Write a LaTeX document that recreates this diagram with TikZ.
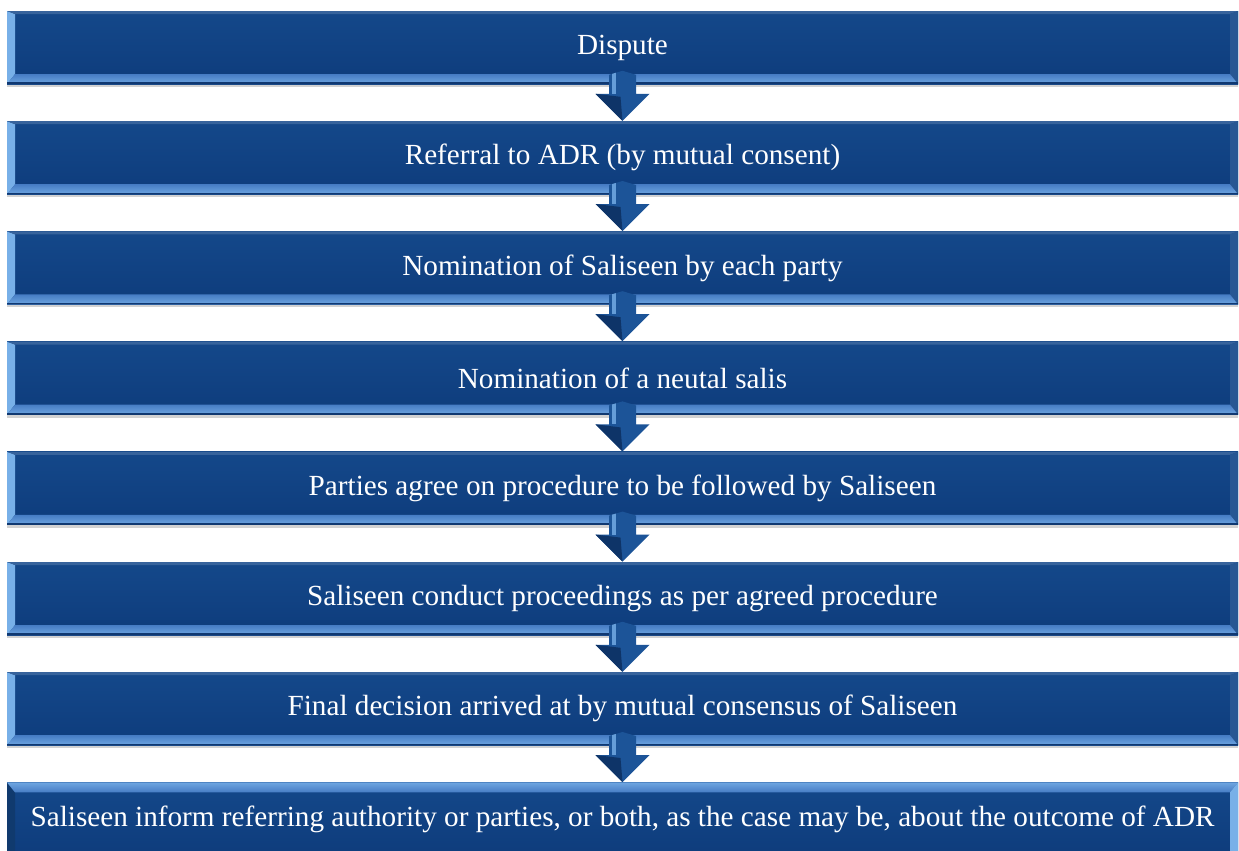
\documentclass[tikz,border=0pt]{standalone}
\usepackage{fontspec}
\setmainfont{Liberation Serif}
\usetikzlibrary{shadings,shadows}

\definecolor{barblue}{RGB}{20,72,138}
\definecolor{bardeep}{RGB}{14,60,124}
\definecolor{bevellight}{RGB}{120,176,232}
\definecolor{bevelmid}{RGB}{70,124,196}
\definecolor{beveldark}{RGB}{16,56,112}
\definecolor{arrowblue}{RGB}{28,84,152}
\definecolor{arrowdark}{RGB}{14,52,104}

\tikzset{
  stage/.style={minimum width=615.5pt, minimum height=36.5pt, inner sep=0pt,
    top color=barblue, bottom color=bardeep, text=white,
    font=\fontsize{14.6}{17}\selectfont,
    drop shadow={opacity=0.35, shadow xshift=0pt, shadow yshift=-1.5pt},
    path picture={
      \fill[bevellight] (path picture bounding box.north west) -- (path picture bounding box.south west)
        -- ([xshift=4pt,yshift=5pt]path picture bounding box.south west) -- ([xshift=4pt,yshift=-1.5pt]path picture bounding box.north west) -- cycle; %left edge
      \fill[barblue!85!white] (path picture bounding box.north west) -- (path picture bounding box.north east)
        -- ([xshift=-4pt,yshift=-1.5pt]path picture bounding box.north east) -- ([xshift=4pt,yshift=-1.5pt]path picture bounding box.north west) -- cycle; %top edge
      \fill[barblue!92!white] (path picture bounding box.north east) -- (path picture bounding box.south east)
        -- ([xshift=-4pt,yshift=5pt]path picture bounding box.south east) -- ([xshift=-4pt,yshift=-1.5pt]path picture bounding box.north east) -- cycle; %right edge
      \shade[top color=bevelmid, bottom color=bevellight!80!bevelmid] (path picture bounding box.south west) -- (path picture bounding box.south east)
        -- ([xshift=-4pt,yshift=5pt]path picture bounding box.south east) -- ([xshift=4pt,yshift=5pt]path picture bounding box.south west) -- cycle; %bottom edge
      \fill[beveldark] (path picture bounding box.south west) rectangle ([yshift=0.8pt]path picture bounding box.south east);
    }},
  stagelast/.style={stage,
    path picture={
      \fill[barblue!80!black] (path picture bounding box.north west) -- (path picture bounding box.south west)
        -- ([xshift=4pt,yshift=1.5pt]path picture bounding box.south west) -- ([xshift=4pt,yshift=-5pt]path picture bounding box.north west) -- cycle; %left edge
      \shade[bottom color=bevelmid, top color=bevellight!80!bevelmid] (path picture bounding box.north west) -- (path picture bounding box.north east)
        -- ([xshift=-4pt,yshift=-5pt]path picture bounding box.north east) -- ([xshift=4pt,yshift=-5pt]path picture bounding box.north west) -- cycle; %top edge
      \fill[bevellight] (path picture bounding box.north east) -- (path picture bounding box.south east)
        -- ([xshift=-4pt,yshift=1.5pt]path picture bounding box.south east) -- ([xshift=-4pt,yshift=-5pt]path picture bounding box.north east) -- cycle; %right edge
    }},
  arrowbody/.style={fill=arrowblue,
    path picture={
      \fill[arrowdark] (path picture bounding box.south) -- ([xshift=-13.5pt,yshift=13.5pt]path picture bounding box.south)
        -- ([xshift=-1pt,yshift=12pt]path picture bounding box.south) -- cycle; %shaded face of the head
      \fill[bevellight, opacity=0.8] ([xshift=-5.5pt]path picture bounding box.north) rectangle ([xshift=-3.5pt,yshift=13.5pt]path picture bounding box.south); %shine on the shaft
    }}
}

\begin{document}
\begin{tikzpicture}[x=0.5pt,y=-0.5pt]
    \useasboundingbox[fill=white] (0,0) rectangle (1239,851);

    \node[stage] (dispute) at (622.5,47.5) {Dispute};
    \node[stage] (referral) at (622.5,157.7) {Referral to ADR (by mutual consent)};
    \node[stage] (nominate) at (622.5,267.9) {Nomination of Saliseen by each party};
    \node[stage] (neutral) at (622.5,378.1) {Nomination of a neutal salis};
    \node[stage] (procedure) at (622.5,488.3) {Parties agree on procedure to be followed by Saliseen};
    \node[stage] (proceed) at (622.5,598.5) {Saliseen conduct proceedings as per agreed procedure};
    \node[stage] (decision) at (622.5,708.7) {Final decision arrived at by mutual consensus of Saliseen};
    \node[stagelast] (inform) at (622.5,818.9) {Saliseen inform referring authority or parties, or both, as the case may be, about the outcome of ADR};

    % block arrows, tip resting on the next box
    \path[arrowbody] (referral.north) -- ++(-27,-27) -- ++(13.5,0) -- ++(0,-19) -- ++(13.5,-4) -- ++(13.5,4) -- ++(0,19) -- ++(13.5,0) -- cycle;
    \path[arrowbody] (nominate.north) -- ++(-27,-27) -- ++(13.5,0) -- ++(0,-19) -- ++(13.5,-4) -- ++(13.5,4) -- ++(0,19) -- ++(13.5,0) -- cycle;
    \path[arrowbody] (neutral.north) -- ++(-27,-27) -- ++(13.5,0) -- ++(0,-19) -- ++(13.5,-4) -- ++(13.5,4) -- ++(0,19) -- ++(13.5,0) -- cycle;
    \path[arrowbody] (procedure.north) -- ++(-27,-27) -- ++(13.5,0) -- ++(0,-19) -- ++(13.5,-4) -- ++(13.5,4) -- ++(0,19) -- ++(13.5,0) -- cycle;
    \path[arrowbody] (proceed.north) -- ++(-27,-27) -- ++(13.5,0) -- ++(0,-19) -- ++(13.5,-4) -- ++(13.5,4) -- ++(0,19) -- ++(13.5,0) -- cycle;
    \path[arrowbody] (decision.north) -- ++(-27,-27) -- ++(13.5,0) -- ++(0,-19) -- ++(13.5,-4) -- ++(13.5,4) -- ++(0,19) -- ++(13.5,0) -- cycle;
    \path[arrowbody] (inform.north) -- ++(-27,-27) -- ++(13.5,0) -- ++(0,-19) -- ++(13.5,-4) -- ++(13.5,4) -- ++(0,19) -- ++(13.5,0) -- cycle;
\end{tikzpicture}
\end{document}
